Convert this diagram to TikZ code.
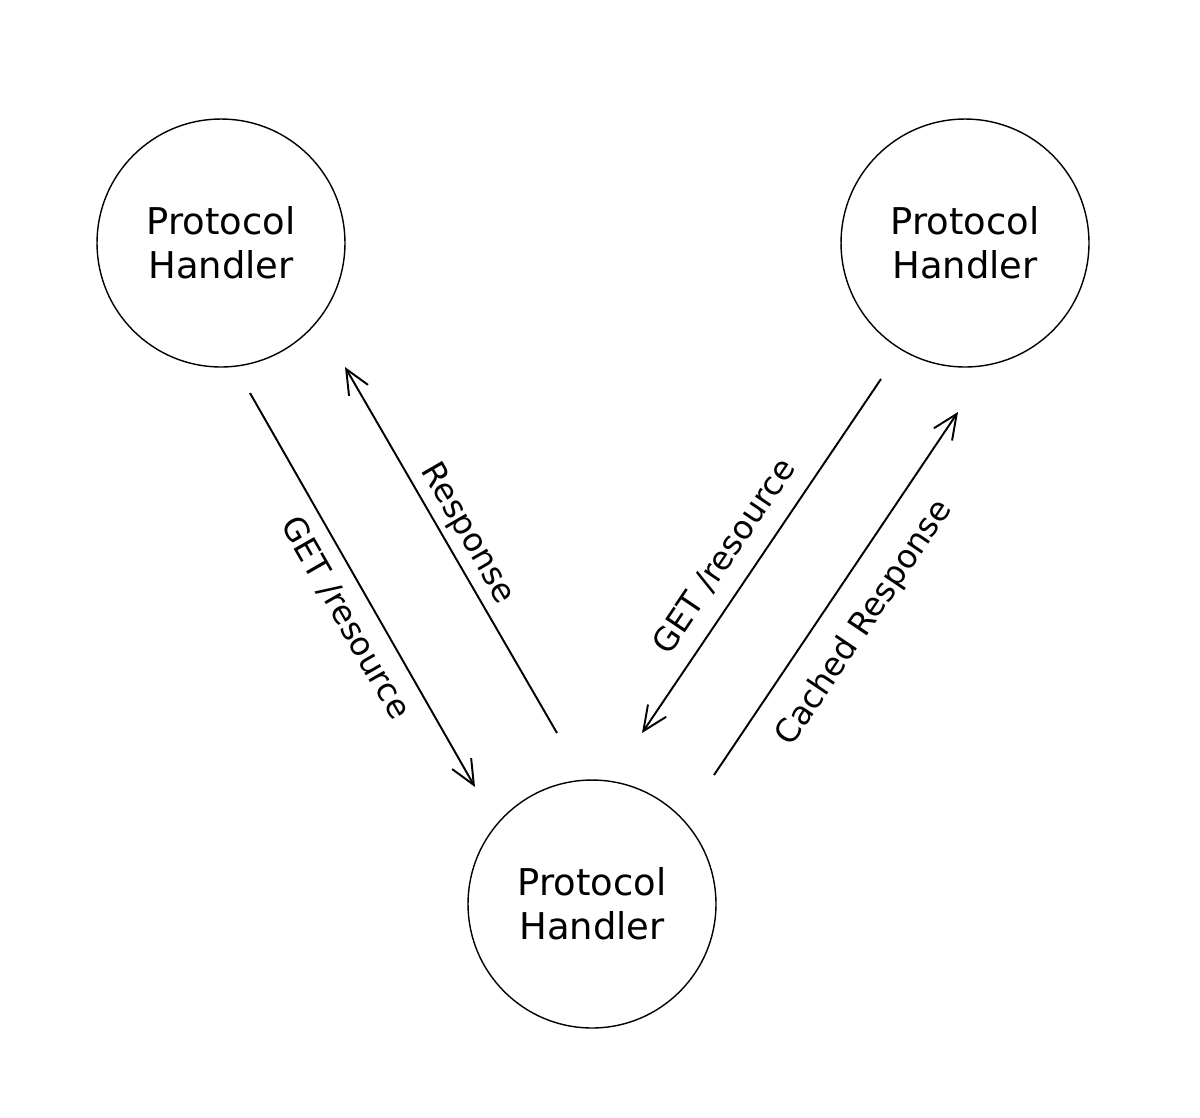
\documentclass[tikz,border=0pt]{standalone}
\usepackage{fontspec}
\setmainfont{DejaVu Sans}
\usetikzlibrary{arrows.meta,positioning}

\tikzset{
  handler/.style={draw, circle, line width=0.8pt, minimum size=4.96cm, inner sep=0pt,
    align=center, font=\fontsize{21}{25}\selectfont},
  msg/.style={line width=1.1pt, -{Straight Barb[length=14pt, width=12.5pt, line width=1.1pt]}},
  lbl/.style={sloped, font=\fontsize{18.5}{22}\selectfont}
}

\begin{document}
\begin{tikzpicture}[x=0.02cm, y=-0.02cm]
  \useasboundingbox (0,0) rectangle (1200,1117);

  \node[handler] (client) at (221,243) {Protocol\\Handler};
  \node[handler] (origin) at (965,243) {Protocol\\Handler};
  \node[handler] (proxy) at (592,904) {Protocol\\Handler};

  % line ends, kept clear of the circles
  \coordinate (reqA) at (250,393);
  \coordinate (reqB) at (475,787);
  \coordinate (resA) at (557,733);
  \coordinate (resB) at (345,367);
  \coordinate (fwdA) at (881,379);
  \coordinate (fwdB) at (642,733);
  \coordinate (cacA) at (714,775);
  \coordinate (cacB) at (958,412);

  \draw[msg] (reqA) -- (reqB) node[lbl, pos=0.535, below=4.5pt] (getleft) {GET /resource};
  \draw[msg] (resA) -- (resB) node[lbl, pos=0.514, above] (response) {Response};
  \draw[msg] (fwdA) -- (fwdB) node[lbl, pos=0.55, above=6pt] (getright) {GET /resource};
  \draw[msg] (cacA) -- (cacB) node[lbl, pos=0.48, below=10pt] (cached) {Cached Response};
\end{tikzpicture}
\end{document}
